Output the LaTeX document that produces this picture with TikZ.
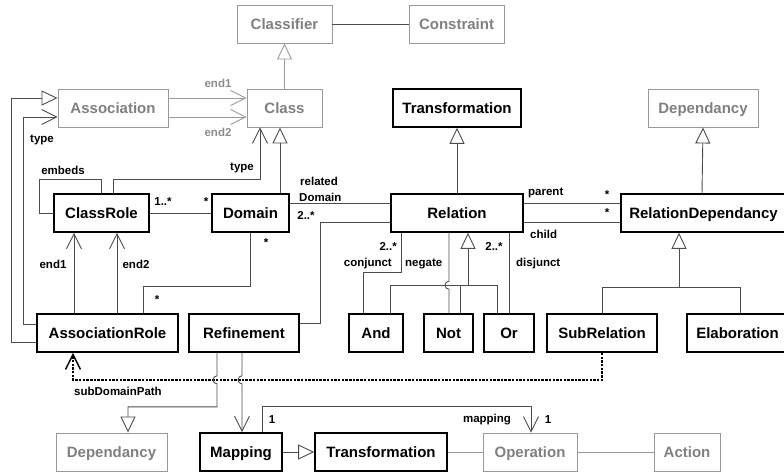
\documentclass[tikz,border=0pt]{standalone}
\usepackage{fontspec}
\setmainfont{Liberation Sans}
\usetikzlibrary{arrows.meta}
\begin{document}
\begin{tikzpicture}[x=1pt,y=-1pt,
  box/.style={rectangle, inner sep=0pt, minimum height=38pt, text height=11pt, text depth=0pt, font=\fontsize{15}{18}\selectfont\bfseries},
  cls/.style={box, draw=black, line width=1.6pt},
  ext/.style={box, draw=black!40, line width=0.9pt, text=black!50},
  lbl/.style={inner sep=0pt, font=\fontsize{11.5}{13}\selectfont\bfseries},
  ln/.style={draw=black!70, line width=0.9pt},
  gln/.style={draw=black!40, line width=0.9pt},
  gen/.style={-{Triangle[open, length=16pt, width=15pt]}},
  nav/.style={-{Straight Barb[length=15pt, width=15pt]}},
  path/.style={draw=black, line width=1.5pt, dash pattern=on 2.5pt off 1.2pt}]
\useasboundingbox (0,0) rectangle (784,475);
% top
\node[ext, minimum width=95pt] (classifier) at (284.5,24){Classifier};
\node[ext, minimum width=95pt] (constraint) at (456.5,24){Constraint};
\node[ext, minimum width=110pt] (assoc) at (113,108){Association};
\node[ext, minimum width=75pt] (class) at (284.5,108){Class};
\node[cls, minimum width=128pt] (transfTop) at (457,108){Transformation};
\node[ext, minimum width=110pt] (depTop) at (703,108){Dependancy};
% middle
\node[cls, minimum width=95pt] (crole) at (101.5,213){ClassRole};
\node[cls, minimum width=77pt] (domain) at (250.5,213){Domain};
\node[cls, minimum width=132pt] (relation) at (457,213){Relation};
\node[cls, minimum width=165pt] (reldep) at (703.5,213){RelationDependancy};
% lower
\node[cls, minimum width=141pt] (arole) at (107.5,333){AssociationRole};
\node[cls, minimum width=110pt] (refinement) at (244,333){Refinement};
\node[cls, minimum width=54pt] (and) at (376,333){And};
\node[cls, minimum width=49pt] (not) at (448.5,333){Not};
\node[cls, minimum width=50pt] (or) at (509,333){Or};
\node[cls, minimum width=110pt] (subrel) at (602,333){SubRelation};
\node[cls, minimum width=101pt] (elab) at (737.5,333){Elaboration};
% bottom
\node[ext, minimum width=111pt] (depBot) at (111.5,452){Dependancy};
\node[cls, minimum width=82pt] (mapping) at (241,452){Mapping};
\node[cls, minimum width=132pt] (transfBot) at (381,452){Transformation};
\node[ext, minimum width=94pt] (operation) at (530,452){Operation};
\node[ext, minimum width=66pt] (action) at (687,452){Action};

% generalizations
\draw[ln] (classifier) -- (constraint);
\draw[gln, gen] (class) -- (classifier);
\draw[ln, gen] ([xshift=29.5pt]domain.north) -- ([xshift=-4.5pt]class.south);
\draw[ln, gen] (relation) -- (transfTop);
\draw[ln, gen] ([xshift=-1.5pt]reldep.north) -- (depTop.south);
\draw[ln, gen] (subrel.north) -- ++(0,-26) -| ([xshift=-24.5pt]reldep.south);
\draw[ln] ([xshift=2.5pt]elab.north) |- ([yshift=26pt]subrel.north);
\draw[ln, gen] ([xshift=14pt]and.north) -- ++(0,-28) -| ([xshift=11pt]relation.south);
\draw[ln] ([xshift=11.5pt]not.north) -- ++(0,-28);
\draw[ln] ([xshift=-12pt]or.north) -- ++(0,-28) -- ++(-29,0);
\draw[ln, gen] (mapping) -- (transfBot);
\draw[ln, gen] ([yshift=-9pt]arole.west) -- ++(-25,0) |- ([yshift=10pt]assoc.west);

% associations
\draw[gln, nav] ([yshift=10pt]assoc.east) -- ([yshift=10pt]class.west);
\draw[gln, nav] ([yshift=-9pt]assoc.east) -- ([yshift=-9pt]class.west);
\node[lbl, text=black!45] (lend1) at (218,83){end1};
\node[lbl, text=black!45] (lend2) at (218,132){end2};
\draw[ln, nav] ([yshift=9pt]arole.west) -- ++(-13,0) |- ([yshift=-9pt]assoc.west);
\node[lbl] (ltype1) at (42,140){type};
\draw[ln] (crole.west) -- ++(-14,0) |- ([yshift=14pt]crole.north) -- (crole.north);
\node[lbl] (lembeds) at (63,170){embeds};
\draw[ln, nav] ([xshift=11.5pt]crole.north) -- ++(0,-14) -| ([xshift=-24.5pt]class.south);
\node[lbl] (ltype2) at (242,168){type};
\draw[ln, nav] ([xshift=-33.5pt]arole.north) -- ([xshift=-27.5pt]crole.south);
\draw[ln, nav] ([xshift=9.5pt]arole.north) -- ([xshift=15.5pt]crole.south);
\node[lbl] (lrend1) at (53,264){end1};
\node[lbl] (lrend2) at (136,264){end2};
\draw[ln] (crole) -- (domain);
\node[lbl] (lcd1) at (163,202){1..*};
\node[lbl] (lcd2) at (206,202){*};
\draw[ln] ([xshift=-0.5pt]domain.south) -- ++(0,54) -| ([xshift=35.5pt]arole.north);
\node[lbl] (lda1) at (266,243){*};
\node[lbl] (lda2) at (157,300){*};
\draw[ln] ([yshift=10pt]domain.east) -- ([yshift=10pt]relation.west);
\node[lbl, anchor=west] (lrel) at (300,181){related};
\node[lbl, anchor=west] (ldom) at (299,197){Domain};
\node[lbl] (ldr) at (306,215){2..*};
\draw[ln] ([yshift=10pt]refinement.east) -- ++(21,0) |- ([yshift=-9pt]relation.west);
\draw[ln] ([yshift=10pt]relation.east) -- ([yshift=10pt]reldep.west);
\draw[ln] ([yshift=-9pt]relation.east) -- ([yshift=-9pt]reldep.west);
\node[lbl, anchor=west] (lparent) at (528,193){parent};
\node[lbl] (lp1) at (607,195){*};
\node[lbl] (lp2) at (607,213){*};
\node[lbl, anchor=west] (lchild) at (530,234){child};
\draw[ln] ([xshift=-13pt]and.north) -- ++(0,-41) -| ([xshift=-56pt]relation.south);
\node[lbl, anchor=east] (lconj1) at (397,246){2..*};
\node[lbl, anchor=east] (lconj) at (392,264){conjunct};
\draw[ln] ([xshift=0.5pt]not.north) -- ++(0,-24) arc[start angle=270, end angle=90, radius=4pt] -- ([xshift=-8pt]relation.south);
\node[lbl, anchor=west] (lneg) at (405,264){negate};
\draw[ln] (or.north) -- ([xshift=52pt]relation.south);
\node[lbl] (ldis1) at (494,246){2..*};
\node[lbl, anchor=west] (ldis) at (516,264){disjunct};

% bottom part
\draw[path, nav] (subrel.south) -- ++(0,27) -| ([xshift=-34.5pt]arole.south);
\node[lbl] (lsub) at (118,391){subDomainPath};
\draw[ln, gen] ([xshift=-27pt]refinement.south) -- ++(0,23) arc[start angle=90, end angle=270, radius=4pt] -- ++(0,23) -| ([xshift=16.5pt]depBot.north);
\draw[ln, nav] ([xshift=-2pt]refinement.south) -- ++(0,23) arc[start angle=90, end angle=270, radius=4pt] -- ([xshift=1pt]mapping.north);
\draw[ln, nav] ([xshift=21pt]mapping.north) -- ++(0,-26) -| ([xshift=1pt]operation.north);
\node[lbl] (lm1) at (272,420){1};
\node[lbl] (lmap) at (487,420){mapping};
\node[lbl] (lm2) at (548,420){1};
\draw[gln] (transfBot) -- (operation);
\draw[gln] (operation) -- (action);
\end{tikzpicture}
\end{document}
